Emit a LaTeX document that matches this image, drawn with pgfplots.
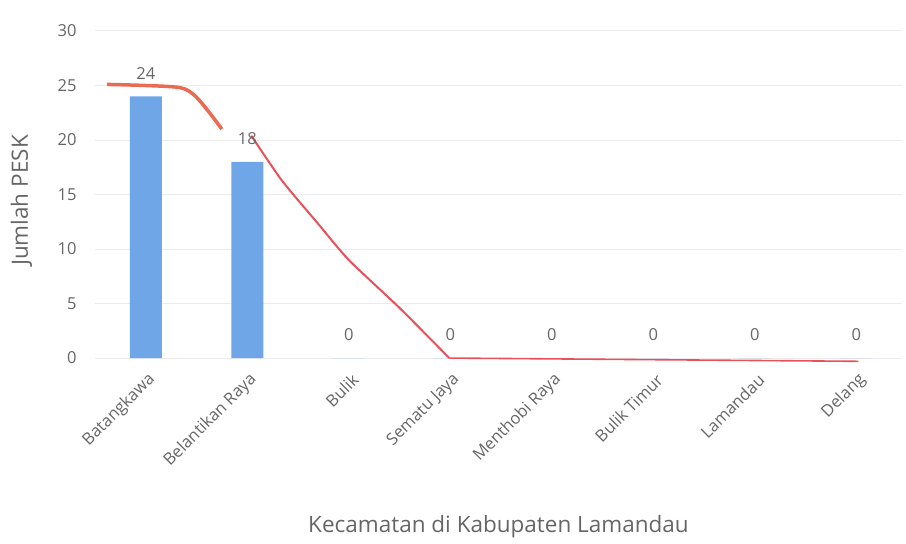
\documentclass[border=0pt]{standalone}
\usepackage{pgfplots}
\pgfplotsset{compat=1.18}
\usepackage{fontspec}
\setmainfont{Open Sans}
\definecolor{barblue}{HTML}{6FA6E8}
\definecolor{txtgray}{HTML}{666666}
\definecolor{gridgray}{HTML}{EBEBEB}
\definecolor{redA}{HTML}{EB6A52}
\definecolor{redB}{HTML}{E8505A}
\begin{document}
\begin{tikzpicture}
\path[use as bounding box] (-95pt,-180.5pt) rectangle (811pt,363.5pt);
\begin{axis}[
  at={(0pt,0pt)}, anchor=south west,
  scale only axis,
  width=807pt, height=332.5pt,
  xmin=-0.5, xmax=7.45,
  ymin=-0.5, ymax=30,
  ytick={0,5,...,30},
  xtick={0,...,7},
  xticklabels={Batangkawa,Belantikan Raya,Bulik,Sematu Jaya,Menthobi Raya,Bulik Timur,Lamandau,Delang},
  axis line style={draw=none},
  major tick length=0pt,
  ymajorgrids,
  grid style={gridgray, line width=1pt},
  tick label style={font=\fontsize{16.5}{19}\selectfont, text=txtgray},
  /pgf/number format/assume math mode=true,
  xticklabel style={xshift=9pt, rotate=45, anchor=east},
  xticklabel shift=11pt,
  yticklabel style={xshift=-15pt},
  xlabel={Kecamatan di Kabupaten Lamandau},
  ylabel={Jumlah PESK},
  label style={font=\fontsize{22.5}{26}\selectfont, text=txtgray},
  xlabel style={at={(axis description cs:0.5,-0.492)}, anchor=center},
  ylabel style={at={(axis description cs:-0.091,0.49)}, anchor=center},
  clip=false,
]
\addplot[ybar, bar width=32pt, fill=barblue, draw=none,
  nodes near coords,
  every node near coord/.append style={font=\fontsize{16.5}{19}\selectfont, text=txtgray, anchor=center, yshift=23pt}]
  coordinates {(0,24) (1,18) (2,0) (3,0) (4,0) (5,0) (6,0) (7,0)};
\addplot[redA, line width=3.5pt, smooth, tension=0.5]
  coordinates {(-0.38,25.1) (0.0,25.0) (0.34,24.8) (0.48,24.1) (0.62,22.6) (0.75,21.0)};
\addplot[redB, line width=2pt, smooth, tension=0.4]
  coordinates {(1.04,20.4) (1.34,16.3) (1.7,12.3) (2.0,9.0) (2.5,4.6) (2.99,0)};
\addplot[redB, line width=1.6pt]
  coordinates {(2.99,0) (7.02,-0.3)};
\end{axis}
\end{tikzpicture}
\end{document}
